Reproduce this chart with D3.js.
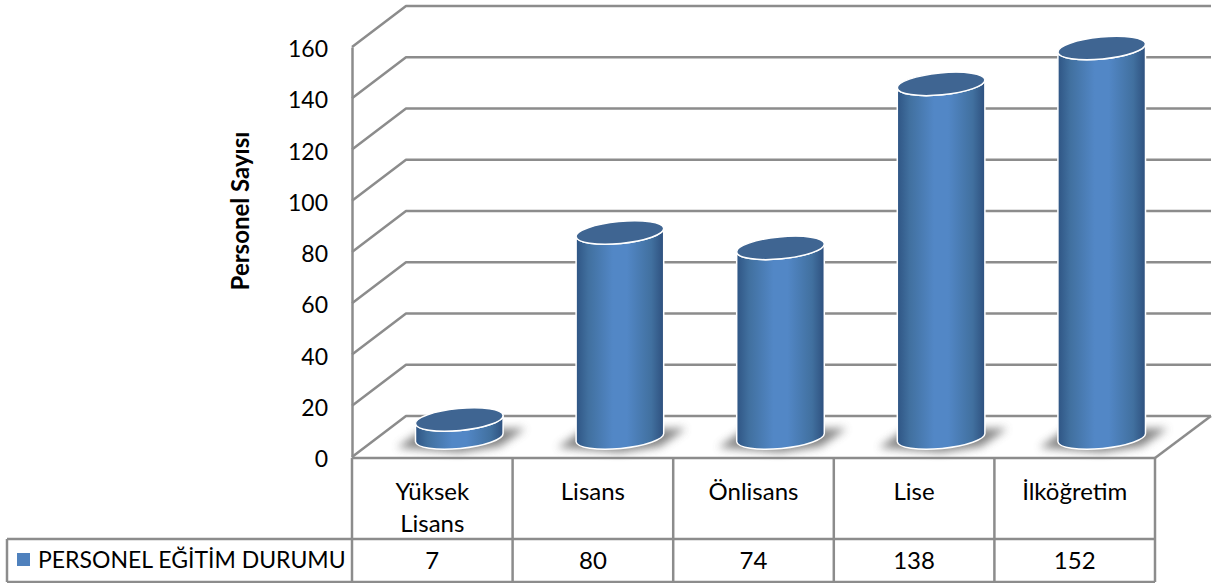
<!DOCTYPE html>
<html>
<head>
<meta charset="utf-8">
<script src="https://cdnjs.cloudflare.com/ajax/libs/d3/7.8.5/d3.min.js"></script>
<style>
    body { margin: 0; background: #fff; }
    svg { display: block; }
    text { font-family: Lato, "Open Sans", sans-serif; fill: #000; }
</style>
</head>
<body>
<div id="chart"></div>
<script>
var categories = [["Yüksek", "Lisans"], ["Lisans"], ["Önlisans"], ["Lise"], ["İlköğretim"]];
var values = [7, 80, 74, 138, 152];
var yTicks = [0, 20, 40, 60, 80, 100, 120, 140, 160];
var seriesName = "PERSONEL EĞİTİM DURUMU";
var yTitle = "Personel Sayısı";

var width = 1219, height = 583;
var lineColor = "#8c8c8c";
var depth = { x: 54, y: -41 };
var tableTop = 458, tableMid = 539, tableBottom = 582, legendLeft = 7;

var svg = d3.select("#chart").append("svg").attr("width", width).attr("height", height);
var defs = svg.append("defs");

var grad = defs.append("linearGradient").attr("id", "cyl").attr("x1", 0).attr("x2", 1).attr("y1", 0).attr("y2", 0);
grad.append("stop").attr("offset", "0%").attr("stop-color", "#2f5584");
grad.append("stop").attr("offset", "14%").attr("stop-color", "#41709f");
grad.append("stop").attr("offset", "42%").attr("stop-color", "#5287c6");
grad.append("stop").attr("offset", "58%").attr("stop-color", "#5287c6");
grad.append("stop").attr("offset", "86%").attr("stop-color", "#41709f");
grad.append("stop").attr("offset", "100%").attr("stop-color", "#2e507e");

defs.append("filter").attr("id", "blur").attr("x", "-30%").attr("y", "-80%").attr("width", "160%").attr("height", "260%")
    .append("feGaussianBlur").attr("stdDeviation", 4.5);

var x = d3.scaleBand().domain(d3.range(categories.length)).range([352, 1155]);
var y = d3.scaleLinear().domain([0, 160]).range([457, 47]);

// walls: side lines and back lines at each tick
var grid = svg.append("g").attr("fill", "none").attr("stroke", lineColor).attr("stroke-width", 2.5);
grid.selectAll("path.wall").data(yTicks).enter().append("path")
    .attr("class", "wall")
    .attr("d", function (d) {
        var p = d3.path();
        p.moveTo(352, y(d));
        p.lineTo(352 + depth.x, y(d) + depth.y);
        p.lineTo(1155 + depth.x + 2, y(d) + depth.y);
        return p.toString();
    })
    .attr("stroke-linejoin", "round");

// floor edge to the right
grid.append("path").attr("d", function () {
    var p = d3.path();
    p.moveTo(1155 + depth.x + 2, y(0) + depth.y);
    p.lineTo(1155, tableTop);
    return p.toString();
});

// y axis with labels
var axis = svg.append("g").attr("transform", "translate(352,0)")
    .call(d3.axisLeft(y).tickValues(yTicks).tickSize(0).tickPadding(24));
axis.select(".domain").attr("stroke", lineColor).attr("stroke-width", 2.5);
axis.selectAll("text").attr("font-size", 23).attr("dy", "0.42em").style("font-family", "Lato");

svg.append("text")
    .attr("transform", "translate(248.5,211) rotate(-90)")
    .attr("text-anchor", "middle")
    .attr("font-size", 24)
    .attr("font-weight", "bold")
    .text(yTitle);

// cylinders
var rx = 44, ry = 11, tilt = 5.5;
var tiltRad = tilt * Math.PI / 180;
var dx = rx * Math.cos(tiltRad), dy = rx * Math.sin(tiltRad);
var baseOffset = depth.y / 2 + 1;

function cx(i) { return x(i) + x.bandwidth() / 2 + depth.x / 2; }
function topY(v) { return y(v) + baseOffset; }
function baseY() { return y(0) + baseOffset; }

var bars = svg.append("g").selectAll("g").data(values).enter().append("g");

bars.append("path")
    .attr("fill", "#666")
    .attr("opacity", 0.8)
    .attr("filter", "url(#blur)")
    .attr("d", function (d, i) {
        var c = cx(i), b = baseY();
        return "M" + (c - 62) + "," + (b + 10) + "L" + (c - 36) + "," + (b - 8) +
            "L" + (c + 66) + "," + (b - 9) + "L" + (c + 40) + "," + (b + 9) +
            "L" + c + "," + (b + 15) + "Z";
    });

bars.append("path")
    .attr("fill", "url(#cyl)")
    .attr("stroke", "#fff")
    .attr("stroke-width", 1.5)
    .attr("d", function (d, i) {
        var c = cx(i), t = topY(d), b = baseY();
        return "M" + (c - dx) + "," + (t + dy) +
            "L" + (c - dx) + "," + (b + dy) +
            "A" + rx + "," + ry + " " + (-tilt) + " 0 0 " + (c + dx) + "," + (b - dy) +
            "L" + (c + dx) + "," + (t - dy) +
            "A" + rx + "," + ry + " " + (-tilt) + " 0 1 " + (c - dx) + "," + (t + dy) + "Z";
    });

bars.append("ellipse")
    .attr("fill", "#3f6592")
    .attr("stroke", "#fff")
    .attr("stroke-width", 1.5)
    .attr("rx", rx)
    .attr("ry", ry)
    .attr("transform", function (d, i) {
        return "translate(" + cx(i) + "," + topY(d) + ") rotate(" + (-tilt) + ")";
    });

// data table
var table = svg.append("g").attr("fill", "none").attr("stroke", lineColor).attr("stroke-width", 2.5);
table.append("line").attr("x1", 352).attr("x2", 1155).attr("y1", tableTop).attr("y2", tableTop);
table.append("line").attr("x1", legendLeft).attr("x2", 1155).attr("y1", tableMid).attr("y2", tableMid);
table.append("line").attr("x1", legendLeft).attr("x2", 1155).attr("y1", tableBottom).attr("y2", tableBottom);
table.append("line").attr("x1", legendLeft).attr("x2", legendLeft).attr("y1", tableMid).attr("y2", tableBottom);
table.selectAll("line.col").data(d3.range(categories.length + 1)).enter().append("line")
    .attr("class", "col")
    .attr("x1", function (d) { return 352 + d * x.step(); })
    .attr("x2", function (d) { return 352 + d * x.step(); })
    .attr("y1", tableTop)
    .attr("y2", tableBottom);

svg.append("g").selectAll("text").data(categories).enter().append("text")
    .attr("text-anchor", "middle")
    .attr("font-size", 24)
    .each(function (d, i) {
        var t = d3.select(this);
        d.forEach(function (line, j) {
            t.append("tspan")
                .attr("x", x(i) + x.bandwidth() / 2)
                .attr("y", 500 + j * 32)
                .text(line);
        });
    });

svg.append("g").selectAll("text").data(values).enter().append("text")
    .attr("text-anchor", "middle")
    .attr("font-size", 24)
    .attr("x", function (d, i) { return x(i) + x.bandwidth() / 2; })
    .attr("y", 569)
    .text(function (d) { return d; });

// legend key
svg.append("rect").attr("x", 17).attr("y", 553).attr("width", 13).attr("height", 13).attr("fill", "#4f81bd");
svg.append("text").attr("x", 38).attr("y", 568).attr("font-size", 23).text(seriesName);
</script>
</body>
</html>
